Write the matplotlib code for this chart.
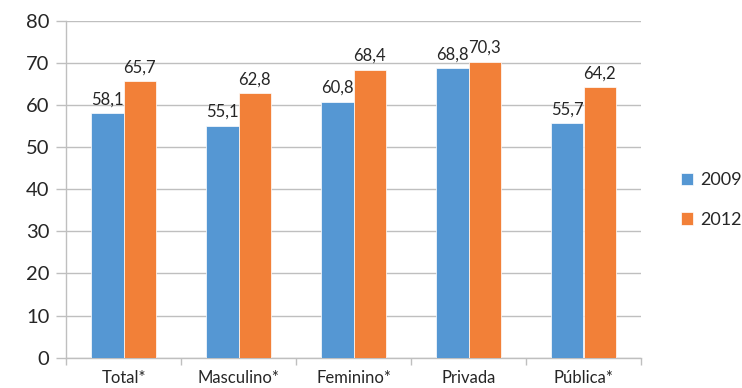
import matplotlib
matplotlib.use("Agg")
import matplotlib.pyplot as plt
import numpy as np

categories = ["Total*", "Masculino*", "Feminino*", "Privada", "Pública*"]
series_names = ["2009", "2012"]
values_2009 = [58.1, 55.1, 60.8, 68.8, 55.7]
values_2012 = [65.7, 62.8, 68.4, 70.3, 64.2]
yticks = [0, 10, 20, 30, 40, 50, 60, 70, 80]

plt.rcParams['font.family'] = ['Lato', 'DejaVu Sans']

W, H = 742, 388
fig = plt.figure(figsize=(W / 100, H / 100), dpi=100)
ax = fig.add_axes([66 / W, 1 - 357.7 / H, (641 - 66) / W, (357.7 - 20.7) / H])

grid_c = "#BFBFBF"
blue = "#5597D3"
orange = "#F28038"
bw = 0.283
x = np.arange(len(categories))

b1 = ax.bar(x - bw / 2, values_2009, bw, color=blue, edgecolor="white", linewidth=0.5,
            label=series_names[0], zorder=3)
b2 = ax.bar(x + bw / 2, values_2012, bw, color=orange, edgecolor="white", linewidth=0.5,
            label=series_names[1], zorder=3)

for bars, vals in ((b1, values_2009), (b2, values_2012)):
    for r, v in zip(bars, vals):
        ax.annotate(f"{v:.1f}".replace(".", ","), (r.get_x() + r.get_width() / 2, v),
                    xytext=(0, 4), textcoords="offset points", ha="center", va="bottom",
                    fontsize=12, color="#262626")

ax.set_xlim(-0.5, len(categories) - 0.5)
ax.set_ylim(0, 80)
ax.set_yticks(yticks)
ax.set_yticklabels([str(t) for t in yticks], fontsize=14.5, color="#262626")
ax.yaxis.grid(True, color=grid_c, linewidth=1, zorder=0)
ax.tick_params(axis="y", length=7, color=grid_c, width=1, pad=5)

ax.set_xticks(x)
ax.set_xticklabels(categories, fontsize=12, color="#262626")
ax.tick_params(axis="x", length=0, pad=9)
ax.set_xticks(np.arange(-0.5, len(categories)), minor=True)
ax.tick_params(axis="x", which="minor", length=5, color=grid_c, width=1)

for s in ("top", "right"):
    ax.spines[s].set_visible(False)
for s in ("left", "bottom"):
    ax.spines[s].set_color(grid_c)
    ax.spines[s].set_linewidth(1)

leg = fig.legend(handles=[b1, b2], labels=series_names, loc="center left",
                 bbox_to_anchor=(668 / W, 1 - 200 / H), frameon=False, fontsize=13,
                 handlelength=0.7, handleheight=0.7, handletextpad=0.4, labelspacing=1.3,
                 borderpad=0.2)
for t in leg.get_texts():
    t.set_color("#262626")

fig.savefig("out.png", dpi=100)
